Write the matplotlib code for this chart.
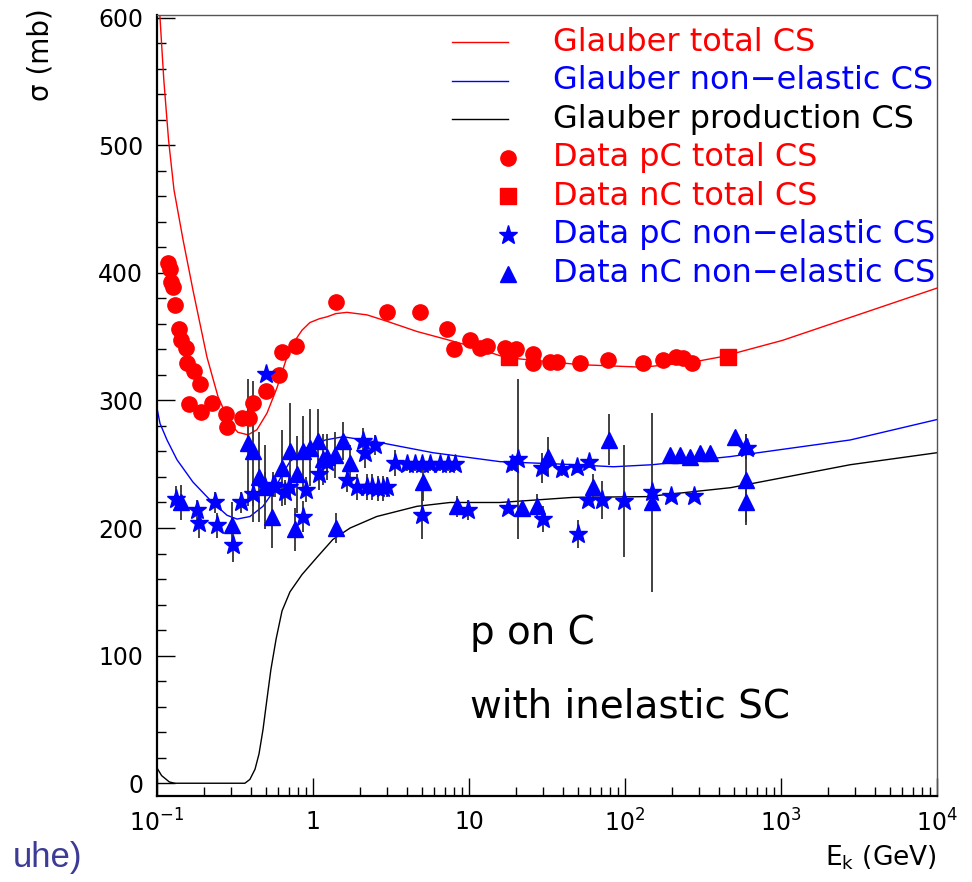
import matplotlib
matplotlib.use("Agg")
import matplotlib.pyplot as plt
from matplotlib.ticker import FixedLocator, FixedFormatter, LogLocator, MultipleLocator, NullFormatter

# Glauber model curves
gl_tot_e = [0.1, 0.1045, 0.1106, 0.1186, 0.1285, 0.1468, 0.170, 0.209, 0.246, 0.293, 0.330, 0.383, 0.437,
            0.507, 0.588, 0.681, 0.735, 0.788, 0.85, 0.955, 1.1, 1.23, 1.4, 1.65, 2.22, 2.98, 4.64, 7.56,
            10.6, 15.8, 21.1, 51.5, 130, 272, 450, 543, 1020, 2780, 10000]
gl_tot_s = [637, 600, 551, 504, 465, 426, 386.5, 334, 303, 282, 275, 273, 277,
            290, 310, 334, 343, 349, 355, 361, 364, 365.5, 368, 369, 367, 362, 354, 347,
            342, 335, 332.5, 328, 326, 330, 335, 338, 347, 365, 388]

gl_nel_e = [0.1, 0.1045, 0.1159, 0.1343, 0.170, 0.2187, 0.281, 0.326, 0.394, 0.478, 0.553, 0.642, 0.711,
            0.914, 1.2, 1.56, 2.68, 5.88, 15.8, 40, 84.3, 150, 475, 2780, 10000]
gl_nel_s = [294, 282, 269, 253.5, 236, 222, 210, 207, 209, 217, 228, 243, 252,
            263, 269, 271.5, 267, 259, 252, 250, 248, 249.6, 256, 269, 285]

gl_prod_e = [0.1, 0.107, 0.12, 0.13, 0.2, 0.366, 0.394, 0.425, 0.4507, 0.478, 0.507, 0.537, 0.58, 0.633,
             0.712, 0.85, 1.06, 1.34, 1.73, 2.56, 4.64, 7.56, 15.8, 46.5, 138, 475, 2780, 10000]
gl_prod_s = [12, 6, 1, 0, 0, 0, 3, 11, 23, 42, 66, 89, 113, 135,
             150, 163.5, 177, 191, 200, 209, 217, 220, 220, 224, 224.6, 231.6, 249.6, 259]

# Data pC total CS
pc_tot_e = [0.118, 0.121, 0.123, 0.127, 0.130, 0.138, 0.143, 0.153, 0.156, 0.173, 0.189, 0.160, 0.192,
            0.225, 0.277, 0.281, 0.351, 0.389, 0.412, 0.499, 0.606, 0.634, 0.778, 1.40, 2.98, 4.85,
            7.23, 8.02, 10.2, 11.8, 13.1, 17.0, 20.0, 25.7, 25.7, 33.0, 36.6, 51.5, 77.8, 130, 175,
            212, 236, 269]
pc_tot_s = [408, 403, 393, 389, 375, 356, 347, 341, 329, 323, 313, 297, 291,
            298, 289, 279, 286, 286, 298, 307, 320, 338, 343, 377, 369, 369,
            356, 340, 347, 341, 343, 341, 340, 336, 329, 330, 330, 329, 332, 329, 332,
            334, 333, 329]

# Data nC total CS
nc_tot_e = [18.0, 457]
nc_tot_s = [334, 334]

# Data pC non-elastic CS
pc_ne_e = [0.132, 0.181, 0.186, 0.235, 0.242, 0.307, 0.346, 0.412, 0.492, 0.500, 0.554, 0.571, 0.661,
           0.702, 0.863, 0.902, 1.09, 1.23, 1.65, 1.92, 2.09, 2.15, 2.22, 2.39, 2.50, 2.61, 2.81, 2.98,
           3.36, 4.0, 4.5, 5.0, 5.6, 6.5, 7.3, 8.1, 5.0, 9.85, 17.8, 18.9, 20.6, 29.4, 29.8, 39.5,
           49.2, 50.0, 58.8, 57.9, 71.2, 98.5, 149, 197, 277, 605]
pc_ne_s = [223, 214, 204, 220, 202, 187, 220, 227, 232, 321, 234, 232, 228,
           232, 209, 230, 242, 252, 238, 232, 268, 259, 232, 232, 265, 231, 231, 232,
           251, 250, 250, 250, 250, 250, 250, 250, 210, 214, 216, 250, 254, 247, 207, 246,
           248, 195, 252, 222, 222, 221, 228, 225, 225, 263]
pc_ne_err = [10, 8, 12, 8, 10, 14, 8, 10, 12, 0, 10, 8, 10,
             8, 12, 10, 12, 10, 10, 10, 10, 12, 10, 10, 8, 10, 10, 8,
             10, 5, 5, 5, 5, 5, 5, 5, 19, 8, 4, 5, 63, 12, 10, 5,
             5, 11, 5, 0, 15, 44, 5, 3, 3, 0]

# Data nC non-elastic CS
nc_ne_e = [0.1425, 0.303, 0.383, 0.412, 0.451, 0.492, 0.546, 0.633, 0.712, 0.767, 0.790, 0.863, 0.957,
           1.077, 1.159, 1.229, 1.384, 1.404, 1.557, 1.727, 5.07, 8.38, 21.9, 27.3, 32.1, 62.4, 79.0,
           149, 194, 225, 261, 303, 351, 507, 597, 597, 597]
nc_ne_s = [220, 202, 267, 260, 240, 232, 209, 247, 260, 199, 242, 260, 263,
           268, 254, 256, 257, 200, 268, 251, 236, 217, 216, 217, 256, 232, 269,
           220, 257, 257, 256, 259, 259, 271, 264, 238, 220]
nc_ne_err = [14, 18, 50, 55, 35, 33, 25, 30, 38, 17, 30, 28, 30,
             25, 20, 18, 18, 12, 15, 14, 15, 8, 0, 10, 15, 10, 20,
             70, 3, 3, 3, 3, 3, 0, 10, 36, 15]

xtick_vals = [0.1, 1, 10, 100, 1000, 10000]
xtick_labels = ['10$^{-1}$', '1', '10', '10$^{2}$', '10$^{3}$', '10$^{4}$']

plt.rcParams['font.family'] = ['DejaVu Sans']
plt.rcParams['mathtext.default'] = 'regular'

fig = plt.figure(figsize=(9.72, 8.82), dpi=100)
ax = fig.add_axes([157 / 972, 1 - 796 / 882, 780 / 972, 781 / 882])
ax.set_xscale('log')
ax.set_xlim(0.1, 1e4)
ax.set_ylim(-10, 602)

# curves
ax.plot(gl_tot_e, gl_tot_s, color='red', lw=1.0, zorder=2)
ax.plot(gl_nel_e, gl_nel_s, color='blue', lw=1.0, zorder=2)
ax.plot(gl_prod_e, gl_prod_s, color='black', lw=1.0, zorder=2)

# error bars
ax.errorbar(pc_ne_e, pc_ne_s, yerr=pc_ne_err, fmt='none', ecolor='#333333', elinewidth=1.3, capsize=0, zorder=3)
ax.errorbar(nc_ne_e, nc_ne_s, yerr=nc_ne_err, fmt='none', ecolor='#333333', elinewidth=1.3, capsize=0, zorder=3)

# data markers
ax.plot(pc_tot_e, pc_tot_s, 'o', ms=11, color='red', mec='red', zorder=4)
ax.plot(nc_tot_e, nc_tot_s, 's', ms=11, color='red', mec='red', zorder=4)
ax.plot(pc_ne_e, pc_ne_s, '*', ms=14, color='blue', mec='blue', zorder=4)
ax.plot(nc_ne_e, nc_ne_s, '^', ms=12, color='blue', mec='blue', zorder=4)

# axes styling (ROOT look)
ax.xaxis.set_major_locator(FixedLocator(xtick_vals))
ax.xaxis.set_major_formatter(FixedFormatter(xtick_labels))
ax.xaxis.set_minor_locator(LogLocator(base=10, subs=range(2, 10)))
ax.xaxis.set_minor_formatter(NullFormatter())
ax.yaxis.set_major_locator(MultipleLocator(100))
ax.yaxis.set_minor_locator(MultipleLocator(20))
ax.tick_params(which='both', direction='in', top=False, right=False, width=1)
ax.tick_params(which='major', length=13, labelsize=17, pad=10)
ax.tick_params(which='minor', length=6.5)
for s in ['left', 'bottom']:
    ax.spines[s].set_linewidth(1.6)
for s in ['top', 'right']:
    ax.spines[s].set_linewidth(1.0)
    ax.spines[s].set_color('#555555')

# legend, drawn by hand in the ROOT style
legend_rows = [
    ('line', 'red', 'Glauber total CS'),
    ('line', 'blue', 'Glauber non\u2212elastic CS'),
    ('line', 'black', 'Glauber production CS'),
    ('o', 'red', 'Data pC total CS'),
    ('s', 'red', 'Data nC total CS'),
    ('*', 'blue', 'Data pC non\u2212elastic CS'),
    ('^', 'blue', 'Data nC non\u2212elastic CS'),
]
marker_size = {'o': 11, 's': 11, '*': 14, '^': 12}
for i, (kind, col, label) in enumerate(legend_rows):
    yy = 0.9654 - i * 0.0494
    if kind == 'line':
        ax.plot([0.378, 0.45], [yy, yy], transform=ax.transAxes, color=col, lw=1.0, clip_on=False)
    else:
        ax.plot([0.45], [yy], kind, ms=marker_size[kind], color=col, transform=ax.transAxes, clip_on=False)
    ax.text(0.508, yy, label, color=col, fontsize=23, va='center', ha='left', transform=ax.transAxes)

ax.text(0.401, 0.2087, 'p on C', fontsize=28, va='center', ha='left', transform=ax.transAxes)
ax.text(0.401, 0.1152, 'with inelastic SC', fontsize=28, va='center', ha='left', transform=ax.transAxes)

fig.text(937 / 972, 1 - 858 / 882, 'E$_{k}$ (GeV)', ha='right', va='center', fontsize=19)
fig.text(40 / 972, 1 - 8 / 882, '\u03c3 (mb)', rotation=90, ha='center', va='top', fontsize=20)
fig.text(82 / 972, 1 - 858 / 882, 'uhe)', ha='right', va='center', fontsize=25,
         color='#3c3c96', family=['Liberation Sans'])

fig.savefig('out.png', dpi=100)
